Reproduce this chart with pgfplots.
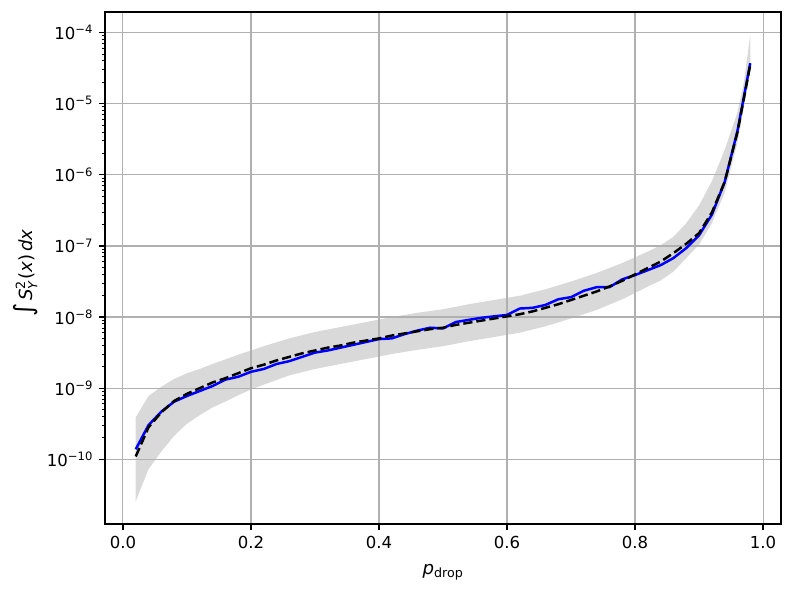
\documentclass[border=0pt]{standalone}
\usepackage{fontspec}
\setmainfont{DejaVu Sans}
\usepackage{amsmath}
\usepackage{pgfplots}
\pgfplotsset{compat=1.18}
\begin{document}
\begin{tikzpicture}
\begin{axis}[
  set layers,
  at={(0,0)}, anchor=south west,
  scale only axis, width=507pt, height=384pt,
  xmin=-0.028, xmax=1.028,
  ymode=log, ymin=1.23e-11, ymax=1.95e-4,
  xtick={0,0.2,0.4,0.6,0.8,1.0},
  xticklabels={0.0,0.2,0.4,0.6,0.8,1.0},
  ytick={1e-10,1e-9,1e-8,1e-7,1e-6,1e-5,1e-4},
  yticklabels={10\textsuperscript{−10},10\textsuperscript{−9},10\textsuperscript{−8},10\textsuperscript{−7},10\textsuperscript{−6},10\textsuperscript{−5},10\textsuperscript{−4}},
  tick align=outside, tick pos=left,
  major tick length=4.4pt, minor tick length=2.6pt,
  grid=major, major grid style={color=black!31, line width=0.85pt},
  every tick/.style={black, line width=0.99pt},
  every minor tick/.style={black, line width=0.75pt},
  axis line style={line width=0.99pt},
  tick label style={font=\fontsize{12.4}{14}\selectfont},
  xticklabel style={yshift=-1pt},
  yticklabel style={xshift=-1pt},
  xlabel={\textit{p}$_{\text{drop}}$},
  ylabel={{\fontsize{19}{19}\selectfont ∫}\,\textit{S}$^{\text{2}}_{\text{\textit{Y}}}$(\textit{x})\,\textit{dx}},
  label style={font=\fontsize{13.6}{15}\selectfont},
  xlabel style={at={(axis description cs:0.5,-0.094)}, anchor=center},
  ylabel style={at={(axis description cs:-0.118,0.49)}, anchor=center},
]
% spread band
\addplot[fill=black!15, draw=none, on layer=axis background] coordinates {
(0.02,3.890e-10) (0.04,7.762e-10) (0.06,1.047e-9) (0.08,1.349e-9) (0.10,1.622e-9)
(0.12,1.862e-9) (0.14,2.188e-9) (0.18,2.951e-9) (0.22,3.890e-9) (0.26,5.012e-9)
(0.30,6.166e-9) (0.34,7.244e-9) (0.38,8.511e-9) (0.42,1.000e-8) (0.46,1.148e-8)
(0.50,1.288e-8) (0.54,1.514e-8) (0.58,1.738e-8) (0.62,1.995e-8) (0.66,2.455e-8)
(0.70,3.162e-8) (0.74,4.169e-8) (0.78,5.754e-8) (0.80,6.918e-8) (0.82,8.318e-8)
(0.84,1.023e-7) (0.86,1.349e-7) (0.88,2.089e-7) (0.90,3.715e-7) (0.92,8.128e-7)
(0.94,2.239e-6) (0.96,7.586e-6) (0.97,1.995e-5) (0.98,9.333e-5)
(0.98,2.818e-5) (0.97,8.913e-6) (0.96,2.818e-6) (0.94,5.623e-7) (0.92,2.089e-7)
(0.90,1.047e-7) (0.88,6.761e-8) (0.86,4.365e-8) (0.84,3.27e-8) (0.82,2.692e-8)
(0.78,1.778e-8) (0.74,1.259e-8) (0.70,9.550e-9) (0.66,7.413e-9) (0.62,6.026e-9)
(0.58,5.248e-9) (0.54,4.571e-9) (0.50,3.890e-9) (0.46,3.467e-9) (0.42,3.020e-9)
(0.38,2.570e-9) (0.34,2.188e-9) (0.30,1.862e-9) (0.26,1.514e-9) (0.22,1.122e-9)
(0.20,9.550e-10) (0.18,7.943e-10) (0.16,6.457e-10) (0.14,5.370e-10) (0.12,4.169e-10)
(0.10,3.162e-10) (0.08,2.138e-10) (0.06,1.288e-10) (0.04,7.244e-11) (0.02,2.570e-11)
};
% estimate (blue)
\addplot[blue, line width=1.86pt] coordinates {
(0.02,1.380e-10) (0.04,3.020e-10) (0.06,4.677e-10) (0.08,6.457e-10) (0.10,7.762e-10)
(0.12,9.120e-10) (0.14,1.072e-9) (0.16,1.318e-9) (0.18,1.445e-9) (0.20,1.698e-9)
(0.22,1.862e-9) (0.24,2.188e-9) (0.26,2.399e-9) (0.28,2.754e-9) (0.30,3.162e-9)
(0.32,3.388e-9) (0.34,3.715e-9) (0.36,4.074e-9) (0.38,4.467e-9) (0.40,4.898e-9)
(0.42,5.012e-9) (0.44,5.754e-9) (0.46,6.457e-9) (0.48,7.079e-9) (0.50,6.918e-9)
(0.52,8.511e-9) (0.54,9.120e-9) (0.56,9.772e-9) (0.58,1.023e-8) (0.60,1.072e-8)
(0.62,1.318e-8) (0.64,1.349e-8) (0.66,1.479e-8) (0.68,1.778e-8) (0.70,1.905e-8)
(0.72,2.344e-8) (0.74,2.630e-8) (0.76,2.630e-8) (0.78,3.388e-8) (0.80,3.890e-8)
(0.82,4.571e-8) (0.84,5.370e-8) (0.86,6.761e-8) (0.88,9.333e-8) (0.90,1.413e-7)
(0.92,2.754e-7) (0.94,7.943e-7) (0.96,4.169e-6) (0.98,3.715e-5)
};
% reference (black dashed)
\addplot[black, line width=1.86pt, dash pattern=on 6.9pt off 3pt] coordinates {
(0.02,1.096e-10) (0.04,2.818e-10) (0.06,4.571e-10) (0.08,6.607e-10) (0.10,8.318e-10)
(0.12,1.000e-9) (0.14,1.202e-9) (0.16,1.380e-9) (0.18,1.622e-9) (0.20,1.905e-9)
(0.22,2.138e-9) (0.24,2.455e-9) (0.26,2.754e-9) (0.28,3.090e-9) (0.30,3.388e-9)
(0.32,3.715e-9) (0.34,3.981e-9) (0.36,4.365e-9) (0.38,4.677e-9) (0.40,5.012e-9)
(0.42,5.495e-9) (0.44,5.888e-9) (0.46,6.310e-9) (0.48,6.761e-9) (0.50,7.079e-9)
(0.52,7.762e-9) (0.54,8.318e-9) (0.56,8.913e-9) (0.58,9.550e-9) (0.60,1.023e-8)
(0.62,1.096e-8) (0.64,1.202e-8) (0.66,1.349e-8) (0.68,1.514e-8) (0.70,1.738e-8)
(0.72,1.995e-8) (0.74,2.291e-8) (0.76,2.692e-8) (0.78,3.236e-8) (0.80,3.981e-8)
(0.82,4.898e-8) (0.84,6.026e-8) (0.86,7.943e-8) (0.88,1.072e-7) (0.90,1.514e-7)
(0.92,2.951e-7) (0.94,7.943e-7) (0.96,3.981e-6) (0.98,3.548e-5)
};
\end{axis}
\pgfresetboundingbox
\path[use as bounding box] (-78.75pt,-50.25pt) rectangle (516pt,393pt);
\end{tikzpicture}
\end{document}
